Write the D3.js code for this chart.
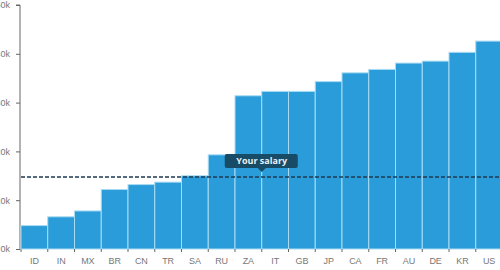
<!DOCTYPE html>
<html>
<head>
<meta charset="utf-8">
<script src="https://cdn.jsdelivr.net/npm/d3@7"></script>
<style>
  body { margin: 0; background: #fff; }
  svg { display: block; font-family: "Open Sans", sans-serif; }
</style>
</head>
<body>
<div id="chart-area"></div>
<script>
const WIDTH = 500;
const HEIGHT = 270;

// data (thousands)
const countries = ["ID", "IN", "MX", "BR", "CN", "TR", "SA", "RU", "ZA", "IT", "GB", "JP", "CA", "FR", "AU", "DE", "KR", "US"];
const salaries = [4.8, 6.6, 7.8, 12.2, 13.2, 13.7, 15.0, 19.3, 31.4, 32.3, 32.3, 34.3, 36.1, 36.8, 38.1, 38.5, 40.3, 42.6];
const yTicks = [0, 10, 20, 30, 40, 50];
const yourSalary = 14.75;
const markerLabel = "Your salary";

const margin = { left: 21, top: 5, bottom: 21 };

const svg = d3.select("#chart-area").append("svg")
    .attr("width", WIDTH).attr("height", HEIGHT);

var x = d3.scaleBand().domain(countries).range([margin.left, margin.left + 26.75 * countries.length]).padding(0);
var y = d3.scaleLinear().domain([0, 50]).range([HEIGHT - margin.bottom, margin.top]);

// y axis (the chart is cropped, so only the last digits of the labels show)
const yAxis = svg.append("g").attr("transform", `translate(${margin.left - 1},0)`)
    .call(d3.axisLeft(y).tickValues(yTicks).tickSize(4).tickFormat(d => d + "k"));
yAxis.select(".domain").attr("stroke", "#666").attr("d", `M-4,${y(50)}H0V${y(0)}`);
yAxis.selectAll(".tick line").attr("stroke", "#666");
yAxis.selectAll(".tick text").attr("x", -10).attr("fill", "#777").style("font-size", "9px");

// bars
svg.append("g").selectAll("rect").data(countries).enter().append("rect")
    .attr("x", d => x(d))
    .attr("y", (d, i) => y(salaries[i]))
    .attr("width", x.bandwidth())
    .attr("height", (d, i) => y(0) - y(salaries[i]))
    .attr("fill", "#2a9cd9")
    .attr("stroke", "#a9dcf3")
    .attr("stroke-width", 1);

// x axis
const xAxis = svg.append("g").attr("transform", `translate(0,${y(0)})`)
    .call(d3.axisBottom(x).tickSize(0).tickPadding(9));
xAxis.select(".domain").remove();
xAxis.selectAll(".tick text").attr("fill", "#777").style("font-size", "9px");
svg.append("g").selectAll("line").data(countries).enter().append("line")
    .attr("x1", d => x(d)).attr("x2", d => x(d))
    .attr("y1", y(0)).attr("y2", y(0) + 3)
    .attr("stroke", "#666");

// your salary line
svg.append("line")
    .attr("x1", margin.left).attr("x2", WIDTH)
    .attr("y1", y(yourSalary)).attr("y2", y(yourSalary))
    .attr("stroke", "#1d3a52").attr("stroke-width", 1.5)
    .attr("stroke-dasharray", "4,2");

// tooltip
const tipX = x("ZA") + x.bandwidth();
const tipY = y(yourSalary) - 3;
const tip = svg.append("g").attr("transform", `translate(${tipX},${tipY})`);
tip.append("rect")
    .attr("x", -37).attr("y", -20).attr("width", 73).attr("height", 14)
    .attr("rx", 2).attr("fill", "#174b66");
tip.append("path").attr("d", "M-4,-6L0,-2L4,-6Z").attr("fill", "#174b66");
tip.append("text")
    .attr("x", 0).attr("y", -10)
    .attr("text-anchor", "middle")
    .attr("fill", "#e8f2f7")
    .style("font-size", "9px").style("font-weight", "bold")
    .text(markerLabel);
</script>
</body>
</html>
